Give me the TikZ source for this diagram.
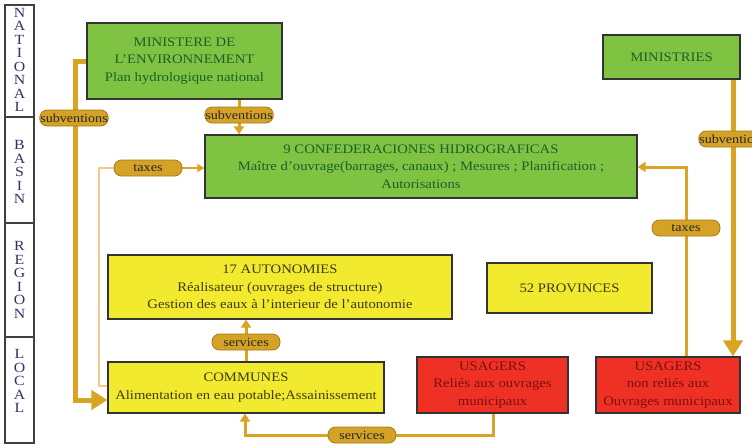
\documentclass[tikz,border=0pt]{standalone}
\usepackage{fontspec}
\setmainfont{Liberation Serif}[FakeStretch=1.13]
\usetikzlibrary{arrows.meta}
\definecolor{gfill}{HTML}{80C342}
\definecolor{gtext}{HTML}{17612A}
\definecolor{yfill}{HTML}{F2EA2E}
\definecolor{ytext}{HTML}{3F3A12}
\definecolor{rfill}{HTML}{EE3124}
\definecolor{rtext}{HTML}{7A1010}
\definecolor{conn}{HTML}{D9A424}
\definecolor{connlight}{HTML}{F2CB8C}
\definecolor{tagfill}{HTML}{D4A227}
\definecolor{tagdraw}{HTML}{A57C14}
\definecolor{lvltext}{HTML}{3A2F66}
\tikzset{
  box/.style={draw=black!80, line width=1.2pt, align=center, inner sep=2pt,
    font=\fontsize{13}{17.5}\selectfont},
  gbox/.style={box, fill=gfill, text=gtext},
  ybox/.style={box, fill=yfill, text=ytext},
  rbox/.style={box, fill=rfill, text=rtext},
  lvl/.style={draw=black!75, line width=1.2pt, minimum width=29pt, fill=white},
  lvltxt/.style={align=center, text=lvltext, font=\fontsize{14}{13.5}\selectfont, inner sep=0pt},
  tag/.style={rounded corners=7.5pt, fill=tagfill, draw=tagdraw, line width=0.8pt,
    font=\fontsize{12.5}{13}\selectfont, text=black!85, minimum width=68pt,
    minimum height=16pt, inner sep=0.5pt},
  medcon/.style={draw=conn, line width=3pt},
  thkcon/.style={draw=conn, line width=5pt},
  thncon/.style={draw=connlight, line width=1.6pt},
  medarr/.style={-{Triangle[length=8pt,width=10pt]}},
  bigarr/.style={-{Triangle[length=16pt,width=19pt]}}
}
\begin{document}
\begin{tikzpicture}[x=1pt,y=-1pt]
\useasboundingbox (0,0) rectangle (752,445);
\fill[white] (0,0) rectangle (752,445);

% level bar
\node[lvl, minimum height=112pt] (lnat) at (19.5,61) {};
\node[lvl, minimum height=106pt] (lbas) at (19.5,170) {};
\node[lvl, minimum height=114pt] (lreg) at (19.5,280) {};
\node[lvl, minimum height=106pt] (lloc) at (19.5,390) {};
\node[lvltxt] (tnat) at (19.5,60) {N\\A\\T\\I\\O\\N\\A\\L};
\node[lvltxt] (tbas) at (19.5,172) {B\\A\\S\\I\\N};
\node[lvltxt] (treg) at (19.5,280) {R\\E\\G\\I\\O\\N};
\node[lvltxt] (tloc) at (19.5,381) {L\\O\\C\\A\\L};

% boxes
\node[gbox, minimum width=195pt, minimum height=76pt] (ms) at (184.5,61)
  {MINISTERE DE\\L’ENVIRONNEMENT\\Plan hydrologique national};
\node[gbox, minimum width=432pt, minimum height=63pt] (conf) at (421,166.5)
  {9 CONFEDERACIONES HIDROGRAFICAS\\Maître d’ouvrage(barrages, canaux) ; Mesures ; Planification ;\\Autorisations};
\node[gbox, minimum width=137pt, minimum height=44pt] (mins) at (671.5,57) {MINISTRIES};
\node[ybox, minimum width=344pt, minimum height=64pt] (auton) at (280,287)
  {17 AUTONOMIES\\Réalisateur (ouvrages de structure)\\Gestion des eaux à l’interieur de l’autonomie};
\node[ybox, minimum width=165pt, minimum height=50pt] (prov) at (569.5,288) {52 PROVINCES};
\node[ybox, minimum width=276pt, minimum height=51pt] (comm) at (246,387.5)
  {COMMUNES\\Alimentation en eau potable;Assainissement};
\node[rbox, minimum width=151pt, minimum height=56pt] (usa1) at (492.5,385)
  {USAGERS\\Reliés aux ouvrages\\municipaux};
\node[rbox, minimum width=144pt, minimum height=56pt] (usa2) at (668,385)
  {USAGERS\\non reliés aux\\Ouvrages municipaux};

% label positions
\coordinate (p1) at (74,118);
\coordinate (p2) at (239,115);
\coordinate (p3) at (148,168);
\coordinate (p4) at (733,139);
\coordinate (p5) at (686,228);
\coordinate (p6) at (246,342);
\coordinate (p7) at (362,435);

% connectors
\coordinate (b1a) at (75,61);
\coordinate (b1b) at (75,400);
\draw[thkcon, bigarr] (ms.west) -- (b1a) -- (b1b) -- (comm.west |- b1b);

\draw[medcon, medarr] (ms.south -| p2) -- (conf.north -| p2);

\coordinate (b3a) at (99,386);
\coordinate (b3b) at (99,168);
\draw[thncon] (comm.west |- b3a) -- (b3a) -- (b3b) -- (p3);
\draw[conn, line width=1.6pt, -{Triangle[length=7pt,width=8pt]}] (p3) -- (conf.west |- p3);

\draw[thkcon, bigarr] (mins.south -| p4) -- (usa2.north -| p4);

\coordinate (b5) at (686,167);
\draw[medcon, medarr] (usa2.north -| b5) -- (b5) -- (conf.east |- b5);

\draw[medcon, medarr] (comm.north -| p6) -- (auton.south -| p6);

\coordinate (b7a) at (493,435);
\coordinate (b7b) at (245,435);
\draw[medcon, medarr] (usa1.south -| b7a) -- (b7a) -- (b7b) -- (comm.south -| b7b);

% labels
\node[tag] (t1) at (p1) {subventions};
\node[tag] (t2) at (p2) {subventions};
\node[tag] (t3) at (p3) {taxes};
\node[tag] (t4) at (p4) {subventions};
\node[tag] (t5) at (p5) {taxes};
\node[tag] (t6) at (p6) {services};
\node[tag] (t7) at (p7) {services};
\end{tikzpicture}
\end{document}
